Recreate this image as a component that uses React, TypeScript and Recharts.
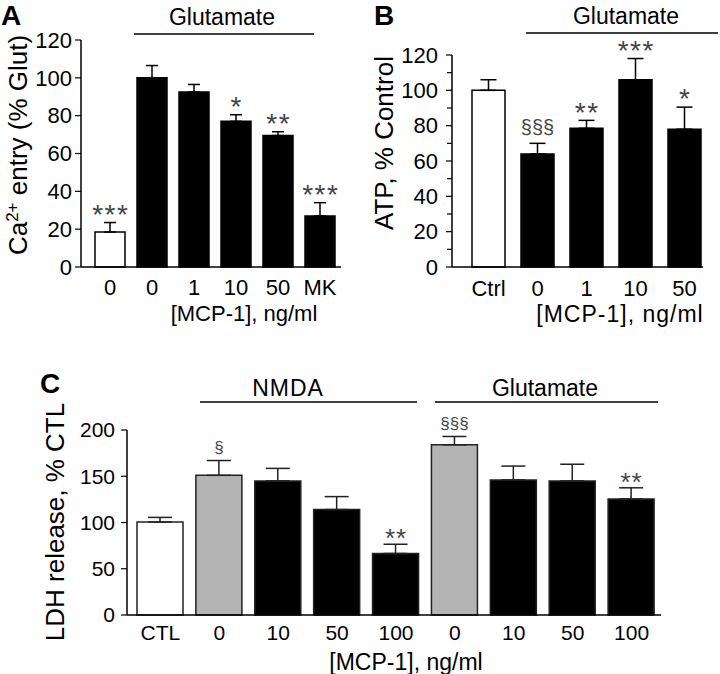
import React from 'react';
import { BarChart, Bar, XAxis, YAxis, Cell, ErrorBar, LabelList } from 'recharts';

const FONT = "'Liberation Sans', Arial, Helvetica, sans-serif";

// Panel A: Ca2+ entry
const aLabels = ['0', '0', '1', '10', '50', 'MK'];
const aValues = [18.5, 100, 92.5, 77, 69.5, 27];
const aErrors = [5, 6.5, 4, 3.5, 2, 7];
const aSig = ['***', '', '', '*', '**', '***'];
const aFills = ['#fff', '#000', '#000', '#000', '#000', '#000'];
const aTicks = [0, 20, 40, 60, 80, 100, 120];

// Panel B: ATP
const bLabels = ['Ctrl', '0', '1', '10', '50'];
const bValues = [100, 64, 78.5, 106, 78];
const bErrors = [6, 6, 4.5, 12, 12.5];
const bSig = ['', '§§§', '**', '***', '*'];
const bFills = ['#fff', '#000', '#000', '#000', '#000'];
const bTicks = [0, 10, 20, 30, 40, 50, 60, 70, 80, 90, 100, 110, 120];

// Panel C: LDH release
const cLabels = ['CTL', '0', '10', '50', '100', '0', '10', '50', '100'];
const cValues = [100.5, 151, 145, 114, 66.5, 184, 146, 145, 125.5];
const cErrors = [5, 16, 13.5, 14, 10, 9, 15, 18, 12];
const cSig = ['', '§', '', '', '**', '§§§', '', '', '**'];
const cFills = ['#fff', '#b4b4b4', '#000', '#000', '#000', '#b4b4b4', '#000', '#000', '#000'];
const cTicks = [0, 50, 100, 150, 200];

const makeRows = (labels: string[], values: number[], errors: number[], sig: string[]) =>
  labels.map((label, i) => ({
    key: String(i),
    label,
    value: values[i],
    err: [0, errors[i]],
    sig: sig[i],
  }));

const aData = makeRows(aLabels, aValues, aErrors, aSig);
const bData = makeRows(bLabels, bValues, bErrors, bSig);
const cData = makeRows(cLabels, cValues, cErrors, cSig);

// significance marks sit a fixed gap above the error bar cap
const sigLabel =
  (values: number[], errors: number[], gap: number, starSize: number, sectSize: number, spacing: number) =>
  (props: any) => {
    const { x, y, width, height, value, index } = props;
    if (!value) return null;
    const pxPerUnit = height / values[index];
    const top = y - errors[index] * pxPerUnit;
    const isStar = String(value).includes('*');
    const size = isStar ? starSize : sectSize;
    const cy = top - gap;
    const baseline = isStar ? cy + size * 0.58 : cy + size * 0.26;
    const ls = isStar ? spacing : 0;
    return (
      <text
        x={x + width / 2 + ls / 2}
        y={baseline}
        textAnchor="middle"
        fontSize={size}
        letterSpacing={ls}
        fill="#444"
        fontFamily={FONT}
      >
        {value}
      </text>
    );
  };

const axisStroke = { stroke: '#000', strokeWidth: 1.5 };

// panel B: labelled ticks every 20, short minor ticks in between
const bTick = (props: any) => {
  const { x, y, payload } = props;
  const major = payload.value % 20 === 0;
  return (
    <g>
      <line x1={major ? x - 6 : x - 5} x2={x} y1={y} y2={y} stroke="#000" strokeWidth={1.2} />
      {major && (
        <text x={x - 14} y={y} dy="0.355em" textAnchor="end" fontSize={22} fill="#000" fontFamily={FONT}>
          {payload.value}
        </text>
      )}
    </g>
  );
};

const panel = (left: number, top: number): React.CSSProperties => ({
  position: 'absolute',
  left,
  top,
});

export default function App() {
  return (
    <div style={{ position: 'absolute', left: 0, top: 0, width: 720, height: 674, background: '#fff', fontFamily: FONT }}>
      <div style={panel(0, 0)}>
        <BarChart width={360} height={330} data={aData} margin={{ top: 40, right: 19, left: 21, bottom: 33 }}>
          <XAxis
            dataKey="key"
            height={30}
            interval={0}
            padding={{ left: 8, right: 0 }}
            tickLine={false}
            tickSize={0}
            tickMargin={12}
            axisLine={axisStroke}
            tickFormatter={(v) => aLabels[Number(v)]}
            tick={{ fill: '#000', fontSize: 22, fontFamily: FONT }}
          />
          <YAxis
            width={60}
            domain={[0, 120]}
            ticks={aTicks}
            interval={0}
            tickSize={6}
            tickMargin={3}
            axisLine={axisStroke}
            tickLine={{ stroke: '#000', strokeWidth: 1.2 }}
            tick={{ fill: '#000', fontSize: 22, fontFamily: FONT }}
          />
          <Bar dataKey="value" barSize={30} isAnimationActive={false}>
            {aData.map((_, i) => (
              <Cell key={i} fill={aFills[i]} stroke="#000" strokeWidth={1.5} />
            ))}
            <ErrorBar dataKey="err" direction="y" width={6} stroke="#000" strokeWidth={1.5} />
            <LabelList dataKey="sig" content={sigLabel(aValues, aErrors, 15, 28, 20, 1.5)} />
          </Bar>
        </BarChart>
      </div>

      <div style={panel(360, 0)}>
        <BarChart width={360} height={330} data={bData} margin={{ top: 55, right: 17, left: 32, bottom: 33 }}>
          <XAxis
            dataKey="key"
            height={30}
            interval={0}
            padding={{ left: 12, right: -6 }}
            tickLine={false}
            tickSize={0}
            tickMargin={13}
            axisLine={axisStroke}
            tickFormatter={(v) => bLabels[Number(v)]}
            tick={{ fill: '#000', fontSize: 22, fontFamily: FONT }}
          />
          <YAxis
            width={60}
            domain={[0, 120]}
            ticks={bTicks}
            interval={0}
            tickSize={0}
            tickMargin={0}
            axisLine={axisStroke}
            tickLine={false}
            tick={bTick}
          />
          <Bar dataKey="value" barSize={33} isAnimationActive={false}>
            {bData.map((_, i) => (
              <Cell key={i} fill={bFills[i]} stroke="#000" strokeWidth={1.5} />
            ))}
            <ErrorBar dataKey="err" direction="y" width={8} stroke="#000" strokeWidth={1.5} />
            <LabelList dataKey="sig" content={sigLabel(bValues, bErrors, 15, 28, 20, 1.5)} />
          </Bar>
        </BarChart>
      </div>

      <div style={panel(0, 330)}>
        <BarChart width={720} height={344} data={cData} margin={{ top: 100, right: 59, left: 67, bottom: 29 }}>
          <XAxis
            dataKey="key"
            height={30}
            interval={0}
            padding={{ left: 4, right: 0 }}
            tickLine={false}
            tickSize={0}
            tickMargin={10}
            axisLine={axisStroke}
            tickFormatter={(v) => cLabels[Number(v)]}
            tick={{ fill: '#000', fontSize: 21, fontFamily: FONT }}
          />
          <YAxis
            width={60}
            domain={[0, 200]}
            ticks={cTicks}
            interval={0}
            tickSize={6}
            tickMargin={6}
            axisLine={axisStroke}
            tickLine={{ stroke: '#000', strokeWidth: 1.2 }}
            tick={{ fill: '#000', fontSize: 21, fontFamily: FONT }}
          />
          <Bar dataKey="value" barSize={46} isAnimationActive={false}>
            {cData.map((_, i) => (
              <Cell key={i} fill={cFills[i]} stroke="#222" strokeWidth={1.5} />
            ))}
            <ErrorBar dataKey="err" direction="y" width={12} stroke="#222" strokeWidth={1.5} />
            <LabelList dataKey="sig" content={sigLabel(cValues, cErrors, 12, 26, 17, 1)} />
          </Bar>
        </BarChart>
      </div>

      <svg
        width={720}
        height={674}
        style={{ position: 'absolute', left: 0, top: 0, pointerEvents: 'none' }}
        fontFamily={FONT}
        fill="#000"
      >
        {/* panel letters */}
        <text x={1} y={25} fontSize={28} fontWeight="bold">A</text>
        <text x={374} y={25} fontSize={28} fontWeight="bold">B</text>
        <text x={40} y={393} fontSize={28} fontWeight="bold">C</text>

        {/* group headers */}
        <text x={222} y={25} fontSize={23} textAnchor="middle">Glutamate</text>
        <line x1={134} x2={314} y1={34} y2={34} stroke="#000" strokeWidth={1.5} />
        <text x={626} y={24} fontSize={23} textAnchor="middle">Glutamate</text>
        <line x1={526} x2={718} y1={33} y2={33} stroke="#000" strokeWidth={1.5} />
        <text x={288} y={396} fontSize={23} textAnchor="middle" letterSpacing={1}>NMDA</text>
        <line x1={200} x2={417} y1={402} y2={402} stroke="#000" strokeWidth={1.5} />
        <text x={545} y={396} fontSize={23} textAnchor="middle">Glutamate</text>
        <line x1={435} x2={658} y1={402} y2={402} stroke="#000" strokeWidth={1.5} />

        {/* axis titles */}
        <text transform="translate(27,145) rotate(-90)" fontSize={26} textAnchor="middle">
          Ca<tspan dy={-9} fontSize={17}>2+</tspan>
          <tspan dy={9}> entry (% Glut)</tspan>
        </text>
        <text transform="translate(393,143) rotate(-90)" fontSize={26} textAnchor="middle">
          ATP, % Control
        </text>
        <text transform="translate(64,522) rotate(-90)" fontSize={26} textAnchor="middle">
          LDH release, % CTL
        </text>

        <text x={244} y={321} fontSize={22} textAnchor="middle">[MCP-1], ng/ml</text>
        <text x={620} y={322} fontSize={23} textAnchor="middle" letterSpacing={1}>[MCP-1], ng/ml</text>
        <text x={406} y={670} fontSize={23} textAnchor="middle">[MCP-1], ng/ml</text>
      </svg>
    </div>
  );
}
